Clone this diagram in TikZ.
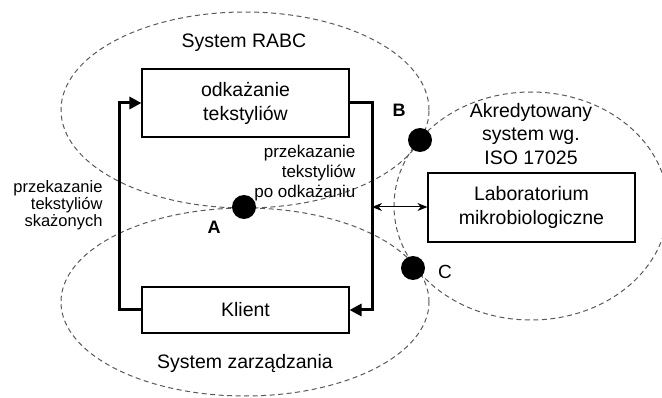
\documentclass[tikz,border=0pt]{standalone}
\usepackage{fontspec}
\setmainfont{Liberation Sans}
\usetikzlibrary{shapes.geometric,arrows.meta}
\tikzset{
  region/.style={draw=black!65, line width=1pt, dash pattern=on 5pt off 3.5pt, ellipse, inner sep=0pt},
  procbox/.style={draw=black, line width=1.1pt, fill=white, minimum width=207pt, inner sep=0pt, align=center, font=\fontsize{19.5}{24}\selectfont},
  flow/.style={line width=3pt, -{Triangle[length=12pt,width=12pt]}},
  dotpt/.style={circle, fill=black, minimum size=24pt, inner sep=0pt},
  maintxt/.style={font=\fontsize{19.5}{23.5}\selectfont, align=center},
  lbl/.style={font=\fontsize{17}{20}\selectfont, align=right},
  lblsmall/.style={font=\fontsize{16.5}{17}\selectfont, align=right},
  letter/.style={font=\fontsize{18}{20}\selectfont\bfseries}
}
\begin{document}
\begin{tikzpicture}[x=1pt,y=-1pt]
\useasboundingbox (0,0) rectangle (662,398);
% regions
\node[region, minimum width=368pt, minimum height=196pt] (rabc) at (245,110) {};
\node[region, minimum width=368pt, minimum height=188pt] (mgmt) at (245,302) {};
\node[region, minimum width=274pt, minimum height=228pt] (iso) at (531,206) {};
% boxes
\node[procbox, minimum height=68pt] (odk) at (245.5,103) {odkażanie\\tekstyliów};
\node[procbox, minimum height=46pt] (klient) at (245.5,310) {Klient};
\node[procbox, minimum height=69pt] (lab) at (531.5,207.5) {Laboratorium\\mikrobiologiczne};
% flows
\draw[flow] (klient.west) -- ++(-22,0) |- (odk.west);
\draw[flow] (odk.east) -- ++(23,0) |- (klient.east);
\coordinate (j) at (372,207);
\draw[line width=1pt, {Stealth[length=10pt,width=8pt]}-{Stealth[length=10pt,width=8pt]}] (j) -- (lab.west |- j);
% points
\node[dotpt] (A) at (244,207) {};
\node[dotpt] (B) at (420,140) {};
\node[dotpt] (C) at (413,268) {};
\node[letter] (Al) at (214,227) {A};
\node[letter] (Bl) at (399,110) {B};
\node[font=\fontsize{19}{20}\selectfont] (Cl) at (445,272) {C};
% texts
\node[maintxt] (t1) at (244,43) {System RABC};
\node[maintxt] (t2) at (245,363) {System zarządzania};
\node[maintxt] (t3) at (531,134) {Akredytowany\\system wg.\\ISO 17025};
\node[lbl, anchor=east] (t4) at (359,173) {przekazanie\\tekstyliów\\po odkażaniu};
\node[lblsmall, anchor=east] (t5) at (106,205) {przekazanie\\tekstyliów\\skażonych};
\end{tikzpicture}
\end{document}
